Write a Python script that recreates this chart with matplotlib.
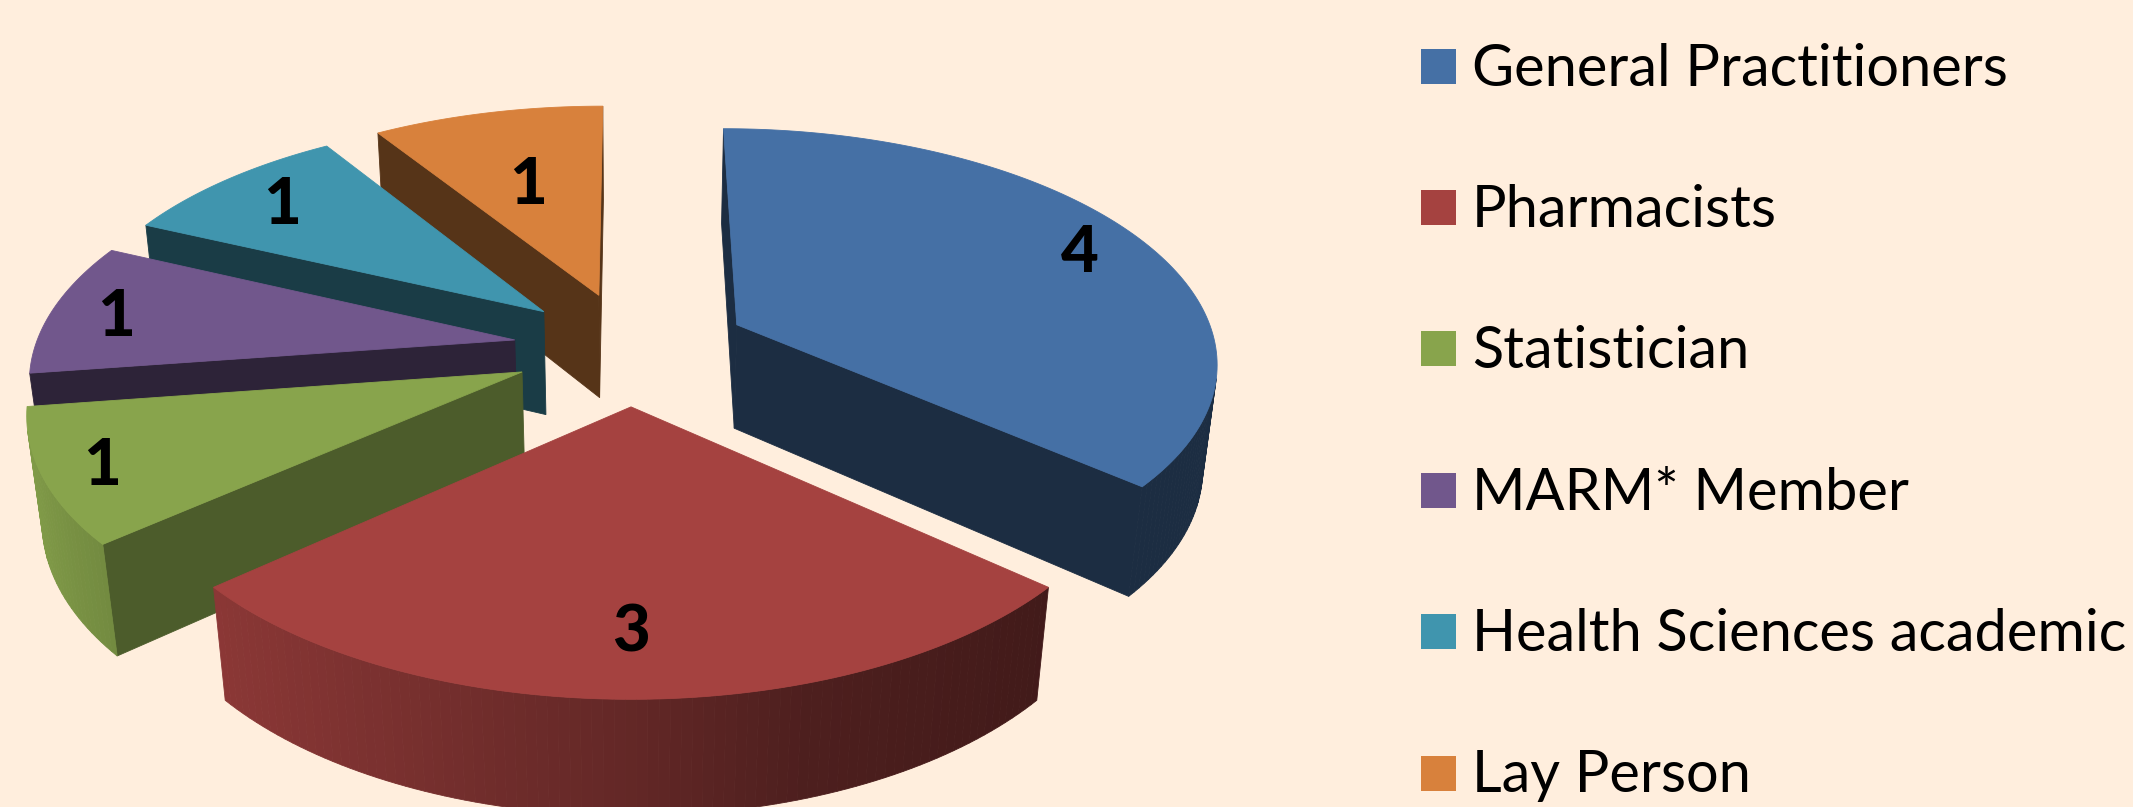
import numpy as np
import matplotlib
matplotlib.use("Agg")
import matplotlib.pyplot as plt
from matplotlib.colors import to_rgb
from matplotlib.patches import Polygon, Rectangle

# Committee composition
categories = ["General Practitioners", "Pharmacists", "Statistician",
              "MARM* Member", "Health Sciences academic", "Lay Person"]
members = [4, 3, 1, 1, 1, 1]
slice_colors = ["#4570A5", "#A54240", "#88A44C", "#71578C", "#4095AE", "#D8813C"]
cut_tones = [0.40, 0.40, 0.56, 0.40, 0.40, 0.40]
paper = "#FFEEDD"

# Camera and pie geometry, in figure pixels
CX, CY = 631.0, 348.0
RADIUS, EXPLODE, THICKNESS = 480.0, 118.0, 107.0
TILT, DEPTH, BOTTOM_SHIFT = 0.481, 3300.0, 0.025
LABEL_RADIUS = 0.8
label_nudges = [(19, 0), (0, 0), (-42, 11), (-29, 3), (-4, 1), (20, 40)]
draw_order = [5, 4, 3, 2, 0, 1]


def project(x, y, bottom=False):
    w = 1 + np.asarray(y, float) / DEPTH + (BOTTOM_SHIFT if bottom else 0)
    sx = CX + np.asarray(x, float) / w
    sy = CY - TILT * np.asarray(y, float) / w + (THICKNESS / w if bottom else 0)
    return sx, sy


def shade(rgb, sin_a):
    f = np.interp(sin_a, [-1, -0.75, 0, 0.3, 0.75, 1],
                  [0.96, 0.84, 0.60, 0.47, 0.40, 0.40])
    return tuple(c * f for c in rgb)


def signed_area(xs, ys):
    return 0.5 * np.sum(xs * np.roll(ys, -1) - np.roll(xs, -1) * ys)


def draw_face(ax, xs, ys, color, z):
    ax.add_patch(Polygon(np.column_stack([xs, ys]), closed=True, facecolor=color,
                         edgecolor=color, linewidth=0.6, zorder=z))


fig = plt.figure(figsize=(21.33, 8.07), dpi=100, facecolor=paper)
ax = fig.add_axes([0, 0, 1, 1])
ax.set_xlim(0, 2133)
ax.set_ylim(807, 0)
ax.axis("off")

total = sum(members)
edges = np.concatenate([[0], np.cumsum(members)]) / total * 2 * np.pi
z = 1
for i in draw_order:
    a0, a1 = edges[i], edges[i + 1]
    mid = (a0 + a1) / 2
    ox, oy = EXPLODE * np.sin(mid), EXPLODE * np.cos(mid)
    rgb = to_rgb(slice_colors[i])
    ang = np.linspace(a0, a1, max(24, int(members[i] * 30)))
    rim_x = ox + RADIUS * np.sin(ang)
    rim_y = oy + RADIUS * np.cos(ang)
    tx, ty = project(rim_x, rim_y)
    bx, by = project(rim_x, rim_y, bottom=True)
    apex_t = project(ox, oy)
    apex_b = project(ox, oy, bottom=True)

    # Straight cut faces share one dark tone per slice
    cut_color = tuple(c * cut_tones[i] for c in rgb)
    cuts = [
        ([apex_t[0], tx[0], bx[0], apex_b[0]], [apex_t[1], ty[0], by[0], apex_b[1]]),
        ([tx[-1], apex_t[0], apex_b[0], bx[-1]], [ty[-1], apex_t[1], apex_b[1], by[-1]]),
    ]
    for qx, qy in cuts:
        qx, qy = np.array(qx, float), np.array(qy, float)
        if signed_area(qx, qy) < 0:
            draw_face(ax, qx, qy, cut_color, z)
            z += 1

    # Outer rim, shaded facet by facet from left to right
    for k in range(len(ang) - 1):
        qx = np.array([tx[k], tx[k + 1], bx[k + 1], bx[k]])
        qy = np.array([ty[k], ty[k + 1], by[k + 1], by[k]])
        if signed_area(qx, qy) < 0:
            draw_face(ax, qx, qy, shade(rgb, np.sin((ang[k] + ang[k + 1]) / 2)), z)
            z += 1

    # Top surface
    draw_face(ax, np.r_[apex_t[0], tx], np.r_[apex_t[1], ty], rgb, z)
    z += 1

    # Count label on the top surface
    lx, ly = project(ox + LABEL_RADIUS * RADIUS * np.sin(mid),
                     oy + LABEL_RADIUS * RADIUS * np.cos(mid))
    nx, ny = label_nudges[i]
    ax.text(lx + nx, ly + ny, str(members[i]), ha="center", va="center",
            family="Lato", fontweight="black", fontsize=47, color="black", zorder=200)

# Legend
LEGEND_TOP, LEGEND_STEP = 66.0, 141.4
for i, name in enumerate(categories):
    yc = LEGEND_TOP + i * LEGEND_STEP
    ax.add_patch(Rectangle((1421, yc - 17.5), 35, 35, facecolor=slice_colors[i],
                           edgecolor="none", zorder=201))
    ax.text(1472, yc + 3, name, ha="left", va="center", family="Lato",
            fontsize=41.6, color="black", zorder=202)

fig.savefig("out.png", dpi=100, facecolor=paper)
